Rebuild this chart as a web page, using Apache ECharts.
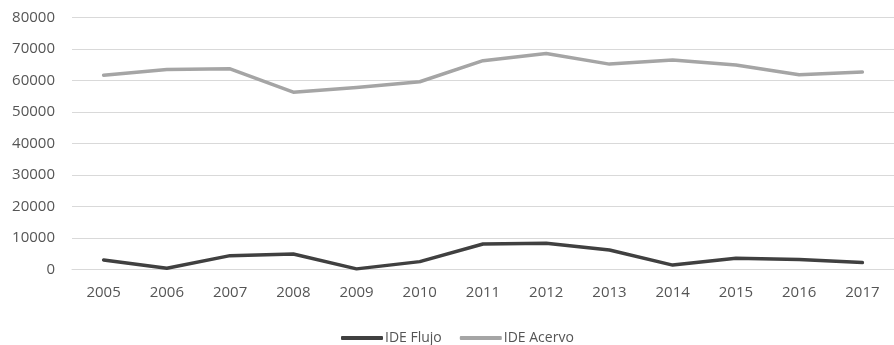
<!DOCTYPE html>
<html><head><meta charset="utf-8">
<script src="https://cdn.jsdelivr.net/npm/echarts@6/dist/echarts.min.js"></script>
<style>html,body{margin:0;padding:0;background:#fff}#c{width:894px;height:345px}</style>
</head><body><div id="c"></div>
<script>
const years = ['2005','2006','2007','2008','2009','2010','2011','2012','2013','2014','2015','2016','2017'];
const ideFlujo = [3000, 400, 4400, 4900, 200, 2500, 8100, 8300, 6200, 1400, 3550, 3200, 2200];
const ideAcervo = [61700, 63500, 63700, 56300, 57800, 59600, 66300, 68600, 65200, 66500, 64900, 61800, 62700];
const yTicks = [0, 10000, 20000, 30000, 40000, 50000, 60000, 70000, 80000];

const font = 'Open Sans';
const chart = echarts.init(document.getElementById('c'), null, {renderer: 'canvas'});
chart.setOption({
  animation: false,
  backgroundColor: '#ffffff',
  grid: {left: 72, top: 17.5, width: 826, bottom: 75.5, containLabel: false},
  xAxis: {
    type: 'category', data: years, boundaryGap: true,
    axisLine: {show: true, lineStyle: {color: '#d9d9d9'}},
    axisTick: {show: false},
    axisLabel: {color: '#555555', fontSize: 15, fontFamily: font, margin: 16}
  },
  yAxis: {
    type: 'value', min: yTicks[0], max: yTicks[yTicks.length-1], interval: 10000,
    axisLine: {show: false}, axisTick: {show: false},
    axisLabel: {color: '#555555', fontSize: 15, fontFamily: font, margin: 17,
                formatter: function (v) { return String(v); }},
    splitLine: {lineStyle: {color: '#d9d9d9', width: 1}}
  },
  legend: {
    left: 336, top: 326, itemWidth: 42, itemHeight: 4, itemGap: 18,
    icon: 'roundRect',
    textStyle: {color: '#555555', fontSize: 14, fontFamily: font, padding: [0,0,0,-3]},
    data: ['IDE Flujo', 'IDE Acervo']
  },
  series: [
    {name: 'IDE Flujo', type: 'line', data: ideFlujo, symbol: 'none',
     lineStyle: {color: '#404040', width: 3.5, cap: 'round', join: 'round'}, itemStyle: {color: '#404040'}},
    {name: 'IDE Acervo', type: 'line', data: ideAcervo, symbol: 'none',
     lineStyle: {color: '#a5a5a5', width: 3.5, cap: 'round', join: 'round'}, itemStyle: {color: '#a5a5a5'}}
  ]
});
</script></body></html>
